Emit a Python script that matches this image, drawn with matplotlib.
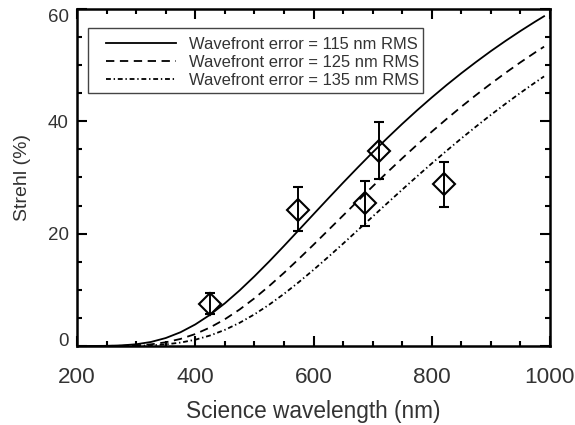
import matplotlib
matplotlib.use('Agg')
import matplotlib.pyplot as plt
from matplotlib.patches import Rectangle
from matplotlib.ticker import MultipleLocator

# model curves, Strehl (%)
wavelength = [200, 225, 250, 275, 300, 325, 350, 375, 400, 425, 450, 475, 500, 525, 550,
              575, 600, 625, 650, 675, 700, 725, 750, 775, 800, 825, 850, 875, 900,
              925, 950, 975, 990]
strehl_115 = [0.0, 0.0, 0.02, 0.10, 0.30, 0.71, 1.41, 2.44, 3.83, 5.55, 7.59, 9.89, 12.39,
              15.04, 17.80, 20.62, 23.45, 26.27, 29.06, 31.79, 34.46, 37.03, 39.53, 41.93,
              44.23, 46.44, 48.55, 50.56, 52.49, 54.32, 56.07, 57.74, 58.70]
strehl_125 = [0.0, 0.0, 0.01, 0.03, 0.11, 0.29, 0.65, 1.25, 2.12, 3.29, 4.75, 6.49, 8.48,
              10.67, 13.01, 15.48, 18.02, 20.62, 23.22, 25.82, 28.40, 30.93, 33.40, 35.81,
              38.14, 40.40, 42.58, 44.68, 46.69, 48.63, 50.49, 52.26, 53.28]
strehl_135 = [0.0, 0.0, 0.0, 0.01, 0.03, 0.11, 0.28, 0.60, 1.11, 1.86, 2.86, 4.12, 5.62,
              7.35, 9.27, 11.35, 13.55, 15.85, 18.21, 20.62, 23.03, 25.44, 27.83, 30.18,
              32.49, 34.74, 36.94, 39.07, 41.14, 43.13, 45.06, 46.91, 47.99]
labels = ['Wavefront error = 115 nm RMS',
          'Wavefront error = 125 nm RMS',
          'Wavefront error = 135 nm RMS']

# measured points
obs_wl = [425, 574, 687, 711, 821]
obs_strehl = [7.5, 24.2, 25.4, 34.7, 28.8]
obs_err_lo = [1.9, 3.7, 4.0, 5.0, 4.0]
obs_err_hi = [1.9, 4.1, 4.0, 5.1, 4.0]

plt.rcParams['font.family'] = ['Liberation Sans', 'DejaVu Sans']
plt.rcParams['lines.scale_dashes'] = False
txt = '#333333'

fig = plt.figure(figsize=(5.75, 4.25), dpi=100)
ax = fig.add_axes([0.134, 0.186, 0.8225, 0.793])

ax.plot(wavelength, strehl_115, color='black', lw=1.3, ls='-', label=labels[0])
ax.plot(wavelength, strehl_125, color='black', lw=1.3, ls=(0, (6, 4)), label=labels[1])
ax.plot(wavelength, strehl_135, color='black', lw=1.3, ls=(0, (3.5, 2, 1, 2)), label=labels[2])

ax.errorbar(obs_wl, obs_strehl, yerr=[obs_err_lo, obs_err_hi], fmt='D', ms=11,
            mfc='none', mec='black', mew=1.5, ecolor='black', elinewidth=1.4,
            capsize=3.5, capthick=1.4)

ax.set_xlim(200, 1000)
ax.set_ylim(0, 60)
ax.xaxis.set_major_locator(MultipleLocator(200))
ax.xaxis.set_minor_locator(MultipleLocator(50))
ax.yaxis.set_major_locator(MultipleLocator(20))
ax.yaxis.set_minor_locator(MultipleLocator(5))
ax.tick_params(which='both', direction='in', top=True, right=True, width=1.5, colors='black')
ax.tick_params(which='major', length=7)
ax.tick_params(which='minor', length=3.6)
ax.tick_params(axis='x', labelsize=16.2, pad=15, labelcolor=txt)
ax.tick_params(axis='y', labelsize=13.5, pad=6, labelcolor=txt)
for s in ax.spines.values():
    s.set_linewidth(1.8)

ax.set_xlabel('Science wavelength (nm)', fontsize=16.3, color=txt, labelpad=9)
ax.set_ylabel('Strehl (%)', fontsize=14, color=txt, labelpad=12)

# legend box drawn separately so the side padding can differ from the top padding
ax.add_patch(Rectangle((0.0233, 0.7507), 0.7082, 0.1929, transform=ax.transAxes,
                       facecolor='white', edgecolor='#444444', lw=1.0, zorder=4))
leg = ax.legend(loc='upper left', bbox_to_anchor=(0.0613, 0.917), fontsize=11.9,
                handlelength=4.25, handletextpad=0.75, borderpad=0,
                labelspacing=0.18, borderaxespad=0, frameon=False)
leg.set_zorder(5)
for t in leg.get_texts():
    t.set_color(txt)

# end labels of the y axis sit inside the axis range, like the original
fig.canvas.draw()
for tk in ax.yaxis.get_major_ticks():
    if tk.get_loc() == 0:
        tk.label1.set_va('baseline')
    elif tk.get_loc() == 60:
        tk.label1.set_va('top')

plt.savefig('out.png', dpi=100)
